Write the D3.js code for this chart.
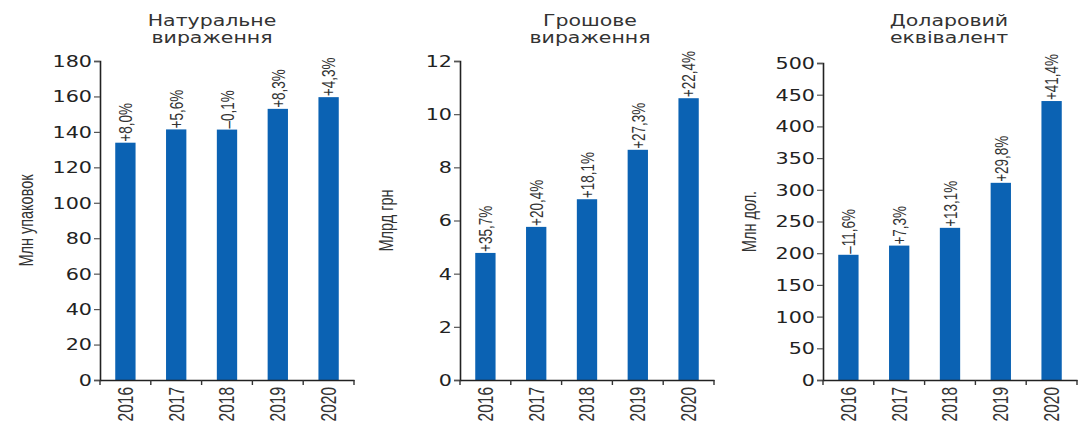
<!DOCTYPE html>
<html>
<head>
<meta charset="utf-8">
<script src="https://cdn.jsdelivr.net/npm/d3@7"></script>
<style>
  body { margin: 0; background: #fff; }
  svg { display: block; }
  .tick line { stroke: #555; }
  .domain { stroke: #222; }
</style>
</head>
<body>
<svg id="chart" width="1079" height="425"></svg>
<script>
// Years shared by all three panels
const years = ["2016", "2017", "2018", "2019", "2020"];

// Natural units, mln packs
const packsValues = [133.9, 141.4, 141.3, 153.0, 159.6];
const packsGrowth = ["+8,0%", "+5,6%", "–0,1%", "+8,3%", "+4,3%"];

// Money terms, bn UAH
const uahValues = [4.78, 5.76, 6.80, 8.66, 10.6];
const uahGrowth = ["+35,7%", "+20,4%", "+18,1%", "+27,3%", "+22,4%"];

// Dollar equivalent, mln USD
const usdValues = [197.5, 212.0, 240.0, 311.0, 440.0];
const usdGrowth = ["–11,6%", "+7,3%", "+13,1%", "+29,8%", "+41,4%"];

const panelTitles = [["Натуральне", "вираження"], ["Грошове", "вираження"], ["Доларовий", "еквівалент"]];
const axisTitles = ["Млн упаковок", "Млрд грн", "Млн дол."];
const axisMax = [180, 12, 500];
const axisStep = [20, 2, 50];

// Horizontal stretch applied to all lettering
const SX = 1.38;
const BAR = "#0b62b3";

const panels = [
  { values: packsValues, growth: packsGrowth, left: 100, top: 61, titleX: 112 },
  { values: uahValues,   growth: uahGrowth,   left: 460, top: 61, titleX: 130 },
  { values: usdValues,   growth: usdGrowth,   left: 823, top: 63, titleX: 126 }
];
const plotW = 254, bottom = 380;

const svg = d3.select("#chart");

panels.forEach((p, i) => {
  const g = svg.append("g");

  const x = d3.scaleBand()
    .domain(years)
    .range([p.left, p.left + plotW])
    .paddingInner(0.6)
    .paddingOuter(0.3);

  const y = d3.scaleLinear()
    .domain([0, axisMax[i]])
    .range([bottom, p.top]);

  // Bars
  g.selectAll("rect.bar")
    .data(years)
    .join("rect")
    .attr("class", "bar")
    .attr("x", d => x(d))
    .attr("width", x.bandwidth())
    .attr("y", (d, k) => y(p.values[k]))
    .attr("height", (d, k) => bottom - y(p.values[k]))
    .attr("fill", BAR);

  // Y axis
  const yAxis = g.append("g")
    .attr("transform", `translate(${p.left},0)`)
    .call(d3.axisLeft(y).tickValues(d3.range(0, axisMax[i] + axisStep[i] / 2, axisStep[i])).tickSize(6).tickSizeOuter(6));
  yAxis.select(".domain").attr("stroke-width", 1.6);
  yAxis.selectAll(".tick line").attr("stroke-width", 1.2);
  yAxis.selectAll(".tick text")
    .attr("x", null).attr("dy", "0.36em")
    .attr("transform", `translate(-8,0) scale(${SX},1)`)
    .attr("text-anchor", "end")
    .attr("font-family", "DejaVu Sans")
    .attr("font-size", 15)
    .attr("fill", "#222");

  // X axis with band boundary ticks
  const xAxis = g.append("g")
    .attr("transform", `translate(0,${bottom})`)
    .call(d3.axisBottom(x).tickSize(0).tickSizeOuter(0));
  xAxis.select(".domain").attr("stroke-width", 1.6);
  xAxis.selectAll(".tick text")
    .attr("y", null).attr("dy", "0.35em")
    .attr("transform", `translate(0,7) scale(${SX},1) rotate(-90)`)
    .attr("text-anchor", "end")
    .attr("font-family", "Liberation Sans")
    .attr("font-size", 15.5)
    .attr("fill", "#333");
  g.selectAll("line.bound")
    .data(d3.range(years.length + 1))
    .join("line")
    .attr("class", "bound")
    .attr("x1", k => p.left + k * x.step())
    .attr("x2", k => p.left + k * x.step())
    .attr("y1", bottom)
    .attr("y2", bottom + 5)
    .attr("stroke", "#333")
    .attr("stroke-width", 1.4);

  // Growth labels above bars
  g.selectAll("text.val")
    .data(years)
    .join("text")
    .attr("class", "val")
    .attr("transform", (d, k) => `translate(${x(d) + x.bandwidth() / 2},${y(p.values[k]) - 1}) scale(${SX},1) rotate(-90)`)
    .attr("dy", "0.36em")
    .attr("text-anchor", "start")
    .attr("font-family", "Liberation Sans")
    .attr("font-size", 13.5)
    .attr("fill", "#333")
    .text((d, k) => p.growth[k]);

  // Axis title
  g.append("text")
    .attr("transform", `translate(${p.left - 74},${(bottom + p.top) / 2}) scale(${SX},1) rotate(-90)`)
    .attr("dy", "0.35em")
    .attr("text-anchor", "middle")
    .attr("font-family", "Liberation Sans")
    .attr("font-size", 14.5)
    .attr("fill", "#333")
    .text(axisTitles[i]);

  // Panel title
  panelTitles[i].forEach((line, j) => {
    g.append("text")
      .attr("transform", `translate(${p.left + p.titleX},${26 + j * 17}) scale(${SX - 0.1},1)`)
      .attr("text-anchor", "middle")
      .attr("font-family", "DejaVu Sans")
      .attr("font-size", 16)
      .attr("fill", "#333")
      .text(line);
  });
});
</script>
</body>
</html>
